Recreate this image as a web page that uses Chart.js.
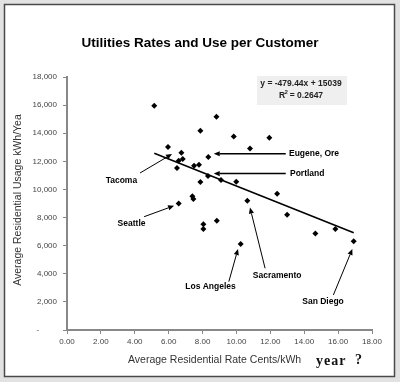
<!DOCTYPE html>
<html>
<head>
<meta charset="utf-8">
<script src="https://cdn.jsdelivr.net/npm/chart.js@4"></script>
<style>
  html, body { margin: 0; padding: 0; background: #e2e2e2; }
  canvas { display: block; }
</style>
</head>
<body>
<canvas id="c" width="400" height="382"></canvas>
<script>
// ---- data ----
const rateCents = [5.15, 8.82, 7.87, 9.84, 11.94, 10.80, 5.96, 6.75, 8.34, 6.83, 6.59, 6.49, 7.50, 7.79, 8.32, 9.09, 9.99, 7.87, 12.40, 7.40, 7.46, 10.64, 6.59, 12.99, 8.84, 8.05, 8.05, 14.66, 15.84, 16.92, 10.25];
const usageKWh  = [15950, 15170, 14180, 13770, 13680, 12920, 13020, 12610, 12300, 12160, 12040, 11520, 11690, 11760, 10950, 10670, 10550, 10530, 9700, 9510, 9320, 9200, 9000, 8200, 7770, 7520, 7180, 6870, 7180, 6310, 6120];

const trendSlope = -479.44;
const trendIntercept = 15039;
const trendR2 = 0.2647;

const xTickValues = [0, 2, 4, 6, 8, 10, 12, 14, 16, 18];
const yTickValues = [0, 2000, 4000, 6000, 8000, 10000, 12000, 14000, 16000, 18000];

const cityNames   = ["Tacoma", "Eugene, Ore", "Portland", "Seattle", "Los Angeles", "Sacramento", "San Diego"];
const labelRate   = [3.21, 13.10, 13.16, 3.81, 8.47, 12.40, 15.11];
const labelUsage  = [10600, 12540, 11130, 7560, 3060, 3890, 2040];
const arrowFromX  = [4.31, 12.91, 12.91, 4.55, 9.55, 11.69, 15.72];
const arrowFromY  = [11170, 12540, 11130, 8060, 3440, 4390, 2490];
const arrowToX    = [6.20, 8.66, 8.66, 6.32, 10.09, 10.80, 16.84];
const arrowToY    = [12520, 12540, 11130, 8840, 5760, 8710, 5760];
const labelAlign  = ["center", "left", "left", "center", "center", "center", "center"];

// ---- build datasets ----
const points = rateCents.map((x, i) => ({ x: x, y: usageKWh[i] }));
const xMin = Math.min(...rateCents), xMax = Math.max(...rateCents);
const trendPoints = [xMin, xMax].map(x => ({ x: x, y: trendSlope * x + trendIntercept }));

function drawArrow(ctx, x1, y1, x2, y2, width) {
  ctx.save();
  ctx.strokeStyle = '#000';
  ctx.fillStyle = '#000';
  ctx.lineWidth = width;
  const ang = Math.atan2(y2 - y1, x2 - x1);
  const hl = 6, hw = 2.6;
  const bx = x2 - hl * Math.cos(ang), by = y2 - hl * Math.sin(ang);
  ctx.beginPath();
  ctx.moveTo(x1, y1);
  ctx.lineTo(bx, by);
  ctx.stroke();
  ctx.beginPath();
  ctx.moveTo(x2, y2);
  ctx.lineTo(bx + hw * Math.sin(ang), by - hw * Math.cos(ang));
  ctx.lineTo(bx - hw * Math.sin(ang), by + hw * Math.cos(ang));
  ctx.closePath();
  ctx.fill();
  ctx.restore();
}

const decor = {
  id: 'decor',
  beforeDraw(chart) {
    const ctx = chart.ctx;
    ctx.save();
    ctx.fillStyle = '#e2e2e2';
    ctx.fillRect(0, 0, chart.width, chart.height);
    ctx.fillStyle = '#ffffff';
    ctx.fillRect(4, 4, 391, 373);
    ctx.strokeStyle = '#4a4a4a';
    ctx.lineWidth = 1.5;
    ctx.strokeRect(4.5, 4.5, 390, 372);
    ctx.restore();
  },
  afterDraw(chart) {
    const ctx = chart.ctx;
    const xs = chart.scales.x, ys = chart.scales.y;
    const ca = chart.chartArea;
    ctx.save();
    // title
    ctx.fillStyle = '#000';
    ctx.font = 'bold 13.5px "Liberation Sans", Arial, sans-serif';
    ctx.textAlign = 'center';
    ctx.textBaseline = 'middle';
    ctx.fillText('Utilities Rates and Use per Customer', 200, 43);

    // axis titles
    ctx.fillStyle = '#333';
    ctx.font = '10.5px "Liberation Sans", Arial, sans-serif';
    ctx.textAlign = 'left';
    ctx.fillText('Average Residential Rate Cents/kWh', 128, 360);
    ctx.save();
    ctx.translate(18, 200);
    ctx.rotate(-Math.PI / 2);
    ctx.textAlign = 'center';
    ctx.fillText('Average Residential Usage kWh/Yea', 0, 0);
    ctx.restore();

    // "year ?"
    ctx.fillStyle = '#111';
    ctx.font = 'bold 14px "Liberation Serif", "Times New Roman", serif';
    ctx.textAlign = 'left';
    ctx.letterSpacing = '1px';
    ctx.fillText('year', 316, 361);
    ctx.letterSpacing = '0px';
    ctx.fillText('?', 355, 360);

    // equation box
    const bx = ca.left + 190, by = ca.top - 1;
    ctx.fillStyle = '#efefef';
    ctx.fillRect(bx, by, 90, 29);
    ctx.fillStyle = '#222';
    ctx.font = 'bold 8.5px "Liberation Sans", Arial, sans-serif';
    ctx.textAlign = 'center';
    const eq = 'y = ' + trendSlope.toFixed(2) + 'x + ' + trendIntercept;
    ctx.fillText(eq, bx + 44, by + 7.5);
    const r2txt = 'R  = ' + trendR2.toFixed(4);
    ctx.fillText(r2txt, bx + 44, by + 19.5);
    const rw = ctx.measureText(r2txt).width;
    const rx = bx + 44 - rw / 2 + ctx.measureText('R').width + 1.2;
    ctx.font = 'bold 5.5px "Liberation Sans", Arial, sans-serif';
    ctx.fillText('2', rx, by + 16.5);

    // city annotations
    for (let i = 0; i < cityNames.length; i++) {
      const w = (i === 1 || i === 2) ? 1.6 : 1;
      drawArrow(ctx,
        xs.getPixelForValue(arrowFromX[i]), ys.getPixelForValue(arrowFromY[i]),
        xs.getPixelForValue(arrowToX[i]), ys.getPixelForValue(arrowToY[i]), w);
      ctx.fillStyle = '#000';
      ctx.font = 'bold 8.5px "Liberation Sans", Arial, sans-serif';
      ctx.textAlign = labelAlign[i];
      ctx.textBaseline = 'middle';
      ctx.fillText(cityNames[i], xs.getPixelForValue(labelRate[i]), ys.getPixelForValue(labelUsage[i]));
    }
    ctx.restore();
  }
};

const tickFont = { family: '"Liberation Sans", Arial, sans-serif', size: 8 };

new Chart(document.getElementById('c'), {
  type: 'scatter',
  data: {
    datasets: [
      {
        data: points,
        pointStyle: 'rectRot',
        pointRadius: 3,
        pointHoverRadius: 3,
        backgroundColor: '#000',
        borderColor: '#000',
        borderWidth: 0
      },
      {
        type: 'line',
        data: trendPoints,
        borderColor: '#000',
        borderWidth: 1.6,
        pointRadius: 0,
        fill: false
      }
    ]
  },
  options: {
    responsive: false,
    animation: false,
    devicePixelRatio: 1,
    layout: { padding: { top: 77, right: 28, bottom: 0, left: 0 } },
    plugins: { legend: { display: false }, tooltip: { enabled: false }, title: { display: false } },
    scales: {
      x: {
        type: 'linear',
        min: 0, max: 18,
        afterBuildTicks: s => { s.ticks = xTickValues.map(v => ({ value: v })); },
        afterFit: s => { s.height = 52; },
        ticks: { callback: v => Number(v).toFixed(2), font: tickFont, color: '#444', padding: 3, maxRotation: 0 },
        grid: { drawOnChartArea: false, tickLength: 4, color: '#888', lineWidth: 1 },
        border: { display: true, color: '#888', width: 2 }
      },
      y: {
        type: 'linear',
        min: 0, max: 18000,
        afterBuildTicks: s => { s.ticks = yTickValues.map(v => ({ value: v })); },
        afterFit: s => { s.width = 67; },
        ticks: { callback: v => v === 0 ? '-        ' : Number(v).toLocaleString('en-US'), font: tickFont, color: '#444', padding: 6 },
        grid: { drawOnChartArea: false, tickLength: 4, color: '#888', lineWidth: 1 },
        border: { display: true, color: '#888', width: 2 }
      }
    }
  },
  plugins: [decor]
});
</script>
</body>
</html>
